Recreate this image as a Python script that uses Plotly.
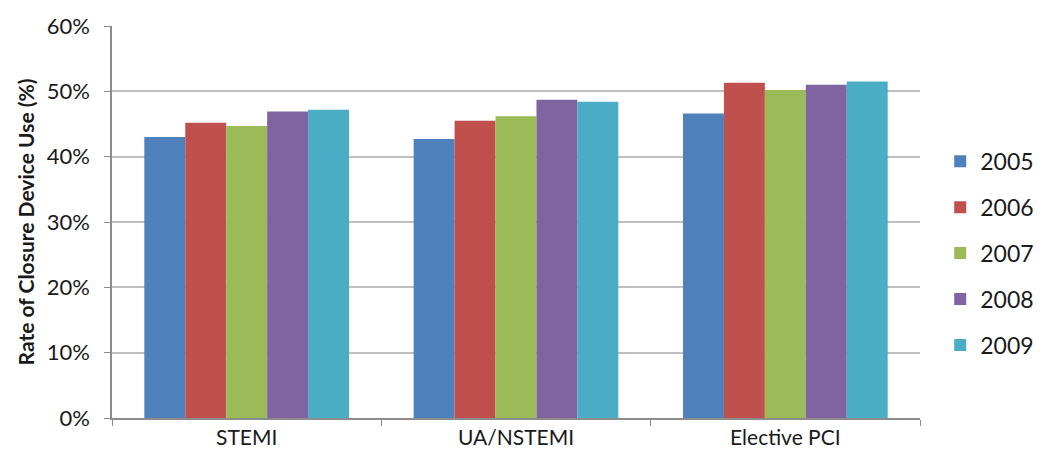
import plotly.graph_objects as go

categories = ["STEMI", "UA/NSTEMI", "Elective PCI"]
years = ["2005", "2006", "2007", "2008", "2009"]
values = {
    "2005": [43.0, 42.7, 46.6],
    "2006": [45.2, 45.5, 51.3],
    "2007": [44.7, 46.2, 50.2],
    "2008": [46.9, 48.7, 51.0],
    "2009": [47.2, 48.4, 51.5],
}
colors = ["#4F81BD", "#C0504D", "#9BBB59", "#8064A2", "#4BACC6"]
y_ticks = [0, 10, 20, 30, 40, 50, 60]
y_tick_labels = ["0%", "10%", "20%", "30%", "40%", "50%", "60%"]

fig = go.Figure()
for yr, c in zip(years, colors):
    fig.add_trace(go.Bar(
        x=categories, y=values[yr], name=yr,
        marker=dict(color=c, line=dict(width=0)),
        legendgroup=yr,
    ))

font_family = "Lato, 'Open Sans', sans-serif"
fig.update_layout(
    width=1050, height=468,
    margin=dict(l=104, r=138, t=18, b=58),
    paper_bgcolor="white", plot_bgcolor="white",
    barmode="group", bargap=0.24, bargroupgap=0,
    font=dict(family=font_family, size=21, color="#1a1a1a"),
    showlegend=True,
    legend=dict(
        x=1.025, xanchor="left", y=0.42, yanchor="middle",
        font=dict(size=23, color="#1a1a1a"),
        tracegroupgap=13, itemwidth=30,
    ),
    xaxis=dict(
        type="category", automargin=False,
        showline=True, linecolor="#8c8c8c", linewidth=1.5,
        ticks="outside", tickson="boundaries", ticklen=6, tickcolor="#8c8c8c",
        tickfont=dict(size=21),
        showgrid=False,
    ),
    yaxis=dict(
        range=[0, 60], tickvals=y_ticks, ticktext=y_tick_labels,
        automargin=False,
        showline=True, linecolor="#8c8c8c", linewidth=1.5,
        ticks="outside", ticklen=6, tickcolor="#8c8c8c",
        ticklabelstandoff=10,
        showgrid=True, gridcolor="#bfbfbf", gridwidth=1.5,
        tickfont=dict(size=22),
        title=dict(text="<b>Rate of Closure Device Use (%)</b>", font=dict(size=21), standoff=6),
        zeroline=False,
    ),
)

fig.write_html("out.html")
